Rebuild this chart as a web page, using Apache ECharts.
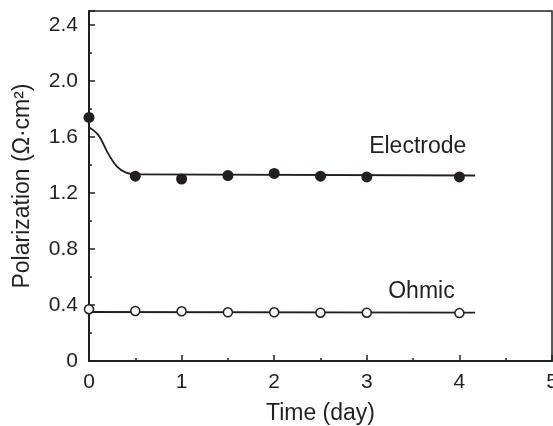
<!DOCTYPE html>
<html>
<head>
<meta charset="utf-8">
<script src="https://cdn.jsdelivr.net/npm/echarts@6/dist/echarts.min.js"></script>
<style>
  html, body { margin: 0; padding: 0; background: #fff; }
  #chart { width: 553px; height: 426px; }
</style>
</head>
<body>
<div id="chart"></div>
<script>
// Measured polarization over time
const days = [0, 0.5, 1, 1.5, 2, 2.5, 3, 4];
const electrode = [1.74, 1.32, 1.30, 1.325, 1.34, 1.32, 1.315, 1.315];
const ohmic = [0.37, 0.357, 0.355, 0.348, 0.348, 0.345, 0.345, 0.342];

// Fitted trend lines: a fast initial decay, then a flat tail
const electrodeDecayX = [0, 0.1, 0.2, 0.3, 0.4, 0.5];
const electrodeDecayY = [1.67, 1.615, 1.49, 1.39, 1.345, 1.333];
const electrodeTailX = [0.5, 4.17];
const electrodeTailY = [1.333, 1.325];
const ohmicFitX = [0, 4.17];
const ohmicFitY = [0.35, 0.345];

// Curve annotations
const annotationText = ['Electrode', 'Ohmic'];
const annotationX = [3.55, 3.59];
const annotationY = [1.53, 0.495];

const ink = '#231f20';
const font = 'Liberation Sans, Arial, Helvetica, sans-serif';
const pairs = (xs, ys) => xs.map((x, i) => [x, ys[i]]);

const chart = echarts.init(document.getElementById('chart'), null, { renderer: 'canvas' });

const fitLine = (name, xs, ys, smooth) => ({
  name, type: 'line', data: pairs(xs, ys), smooth,
  showSymbol: false, symbol: 'none',
  lineStyle: { color: ink, width: 1.8 }, z: 2, silent: true
});

chart.setOption({
  animation: false,
  backgroundColor: '#fff',
  grid: {
    left: 89, right: 1, top: 11, bottom: 65,
    containLabel: false, outerBoundsMode: 'none',
    show: true, borderColor: ink, borderWidth: 1.5, backgroundColor: 'transparent'
  },
  xAxis: {
    type: 'value', min: 0, max: 5, interval: 1,
    name: 'Time (day)', nameLocation: 'middle', nameGap: 41,
    nameTextStyle: { fontFamily: font, fontSize: 23, color: ink },
    axisLine: { show: true, onZero: false, lineStyle: { color: ink, width: 2 } },
    axisTick: { show: true, inside: true, length: 6, lineStyle: { color: ink, width: 1.5 } },
    minorTick: { show: true, splitNumber: 2, length: 3, lineStyle: { color: ink, width: 1.5 } },
    axisLabel: { fontFamily: font, fontSize: 21, color: ink, margin: 11 },
    splitLine: { show: false }
  },
  yAxis: {
    type: 'value', min: 0, max: 2.5, interval: 0.4,
    name: 'Polarization (Ω·cm²)', nameLocation: 'middle', nameGap: 55,
    nameTextStyle: { fontFamily: font, fontSize: 23, color: ink },
    axisLine: { show: true, onZero: false, lineStyle: { color: ink, width: 2 } },
    axisTick: { show: true, inside: true, length: 6, lineStyle: { color: ink, width: 1.5 } },
    minorTick: { show: true, splitNumber: 2, length: 3, lineStyle: { color: ink, width: 1.5 } },
    axisLabel: {
      fontFamily: font, fontSize: 21, color: ink, margin: 11, showMaxLabel: false,
      formatter: v => (v === 0 ? '0' : v.toFixed(1))
    },
    splitLine: { show: false }
  },
  series: [
    fitLine('Electrode decay', electrodeDecayX, electrodeDecayY, 0.4),
    fitLine('Electrode tail', electrodeTailX, electrodeTailY, false),
    fitLine('Ohmic fit', ohmicFitX, ohmicFitY, false),
    {
      name: 'Electrode', type: 'scatter', data: pairs(days, electrode),
      symbol: 'circle', symbolSize: 11,
      itemStyle: { color: ink, borderColor: ink, borderWidth: 0, opacity: 1 }, z: 3
    },
    {
      name: 'Ohmic', type: 'scatter', data: pairs(days, ohmic),
      symbol: 'circle', symbolSize: 9,
      itemStyle: { color: '#fff', borderColor: ink, borderWidth: 1.5, opacity: 1 }, z: 3
    },
    {
      name: 'Labels', type: 'scatter', symbolSize: 0, silent: true,
      itemStyle: { opacity: 1 },
      data: annotationText.map((t, i) => ({ value: [annotationX[i], annotationY[i]], name: t })),
      label: {
        show: true, position: 'inside', formatter: p => p.name,
        fontFamily: font, fontSize: 23, color: ink, opacity: 1
      }
    }
  ]
});
</script>
</body>
</html>
